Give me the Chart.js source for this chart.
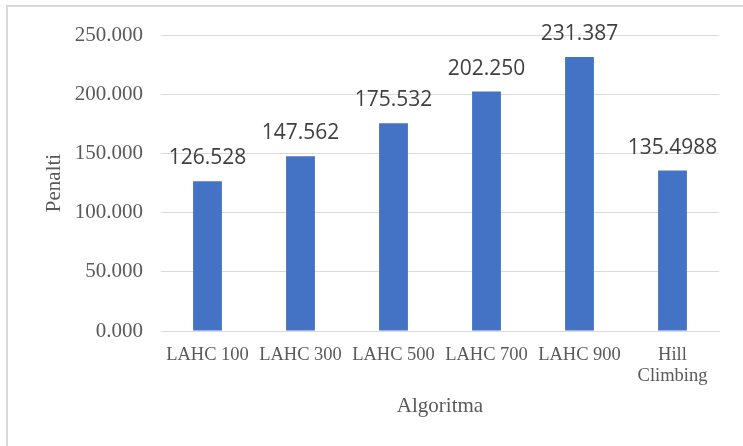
<!DOCTYPE html>
<html>
<head>
<meta charset="utf-8">
<script src="https://cdn.jsdelivr.net/npm/chart.js@4/dist/chart.umd.min.js"></script>
<style>
  html, body { margin: 0; padding: 0; background: #ffffff; }
  #wrap { position: relative; width: 743px; height: 446px; overflow: hidden; }
  #frame { position: absolute; left: 6px; top: 5px; width: 800px; height: 500px;
           border: 2px solid #d9d9d9; box-sizing: border-box; }
  canvas { position: absolute; left: 0; top: 0; }
</style>
</head>
<body>
<div id="wrap">
  <div id="frame"></div>
  <canvas id="chart" width="743" height="446"></canvas>
</div>
<script>
// Penalty per algorithm
const categories = ['LAHC 100', 'LAHC 300', 'LAHC 500', 'LAHC 700', 'LAHC 900', ['Hill', 'Climbing']];
const penaltyValues = [126.528, 147.562, 175.532, 202.250, 231.387, 135.4988];
const labelDecimals = [3, 3, 3, 3, 3, 4];
const yTicks = [0, 50, 100, 150, 200, 250];

const serif = '"Liberation Serif", "Times New Roman", serif';

// Writes each bar's value above it
const valueLabels = {
  id: 'valueLabels',
  afterDatasetsDraw(chart) {
    const ctx = chart.ctx;
    const meta = chart.getDatasetMeta(0);
    ctx.save();
    ctx.font = '21px "Open Sans", sans-serif';
    ctx.fillStyle = '#404040';
    ctx.textAlign = 'center';
    ctx.textBaseline = 'alphabetic';
    meta.data.forEach((bar, i) => {
      ctx.fillText(penaltyValues[i].toFixed(labelDecimals[i]), bar.x, bar.y - 17);
    });
    ctx.restore();
  }
};

new Chart(document.getElementById('chart'), {
  type: 'bar',
  data: {
    labels: categories,
    datasets: [{
      data: penaltyValues,
      backgroundColor: '#4472c4',
      borderWidth: 0,
      categoryPercentage: 1,
      barPercentage: 0.31
    }]
  },
  options: {
    responsive: false,
    animation: false,
    devicePixelRatio: 1,
    layout: { padding: { top: 35, right: 24, bottom: 0, left: 0 } },
    plugins: {
      legend: { display: false },
      tooltip: { enabled: false }
    },
    scales: {
      x: {
        grid: { display: false, drawTicks: false },
        border: { display: true, color: '#d9d9d9', width: 1 },
        ticks: {
          color: '#595959',
          font: { family: serif, size: 18.5, lineHeight: 1.17 },
          padding: 13,
          maxRotation: 0,
          autoSkip: false
        },
        title: {
          display: true,
          text: 'Algoritma',
          color: '#595959',
          font: { family: serif, size: 21 },
          padding: { top: 0, bottom: 27 }
        },
        afterFit(scale) { scale.height = 115; }
      },
      y: {
        min: 0,
        max: 250,
        afterBuildTicks(scale) { scale.ticks = yTicks.map(v => ({ value: v })); },
        grid: { color: '#d9d9d9', lineWidth: 1, drawTicks: false },
        border: { display: false },
        ticks: {
          color: '#595959',
          font: { family: serif, size: 21 },
          padding: 18,
          callback: v => v.toFixed(3)
        },
        title: {
          display: true,
          text: 'Penalti',
          color: '#595959',
          font: { family: serif, size: 21 },
          padding: { top: 42, bottom: 0 }
        },
        afterFit(scale) { scale.width = 161; }
      }
    }
  },
  plugins: [valueLabels]
});
</script>
</body>
</html>
